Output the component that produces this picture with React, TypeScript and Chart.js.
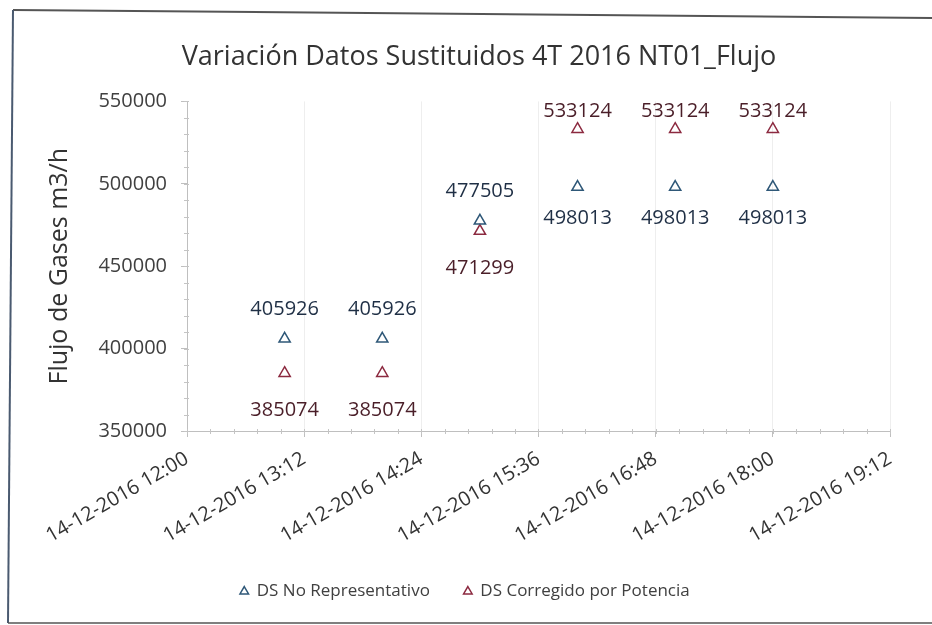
import React, { useEffect, useRef } from "react";
import { Chart, registerables } from "chart.js";

Chart.register(...registerables);

const TITLE = "Variación Datos Sustituidos 4T 2016 NT01_Flujo";
const Y_TITLE = "Flujo de Gases m3/h";
const DATE_PREFIX = "14-12-2016";
const times = ["13:00", "14:00", "15:00", "16:00", "17:00", "18:00"];
const noRepresentativo = [405926, 405926, 477505, 498013, 498013, 498013];
const corregidoPotencia = [385074, 385074, 471299, 533124, 533124, 533124];
const seriesNames = ["DS No Representativo", "DS Corregido por Potencia"];
const xMinTime = "12:00";
const xMaxTime = "19:12";
const xStepMinutes = 72;
const yMin = 350000;
const yMax = 550000;
const yStep = 50000;
const labelPosBlue = ["above", "above", "above", "below", "below", "below"];
const labelPosRed = ["below", "below", "below", "above", "above", "above"];

const FONT = "'Open Sans', 'DejaVu Sans', sans-serif";
const markerColors = ["#2f5878", "#8c2a40"];
const labelColors = ["#1f2f45", "#4a1e28"];
// label offsets (px) per series: [above, below]
const labelOffsets = [
  [-30, 31],
  [-18, 37],
];
const TITLE_SIZE = 27;
const TITLE_PAD_TOP = 41;
const TITLE_CENTER_X = 479;

const toMin = (t: string) => {
  const [h, m] = t.split(":").map(Number);
  return h * 60 + m;
};
const fmtMin = (v: number) => {
  const h = Math.floor(v / 60);
  const m = Math.round(v - h * 60);
  return `${DATE_PREFIX} ${h}:${String(m).padStart(2, "0")}`;
};

const valueLabels = {
  id: "valueLabels",
  afterDatasetsDraw(chart: any) {
    const ctx = chart.ctx;
    chart.data.datasets.forEach((ds: any, di: number) => {
      const meta = chart.getDatasetMeta(di);
      const pos = di === 0 ? labelPosBlue : labelPosRed;
      ctx.save();
      ctx.font = `20px ${FONT}`;
      ctx.fillStyle = labelColors[di];
      ctx.textAlign = "center";
      ctx.textBaseline = "middle";
      meta.data.forEach((pt: any, i: number) => {
        const v = ds.data[i].y;
        const dy = pos[i] === "above" ? labelOffsets[di][0] : labelOffsets[di][1];
        ctx.fillText(String(v), pt.x, pt.y + dy);
      });
      ctx.restore();
    });
  },
};

const minorTicks = {
  id: "minorTicks",
  afterDraw(chart: any) {
    const { ctx } = chart;
    const x = chart.scales.x;
    const y = chart.scales.y;
    ctx.save();
    ctx.strokeStyle = "#c4c4c4";
    ctx.lineWidth = 1;
    ctx.beginPath();
    const xs = xStepMinutes / 5;
    for (let v = x.min; v <= x.max + 1e-6; v += xs) {
      const px = Math.round(x.getPixelForValue(v)) + 0.5;
      ctx.moveTo(px, y.bottom - 2);
      ctx.lineTo(px, y.bottom + 3);
    }
    const ys = yStep / 5;
    for (let v = y.min; v <= y.max + 1e-6; v += ys) {
      const py = Math.round(y.getPixelForValue(v)) + 0.5;
      ctx.moveTo(x.left - 3, py);
      ctx.lineTo(x.left + 2, py);
    }
    ctx.stroke();
    ctx.restore();
  },
};

const titleText = {
  id: "titleText",
  afterDraw(chart: any) {
    const { ctx } = chart;
    const tb = chart.titleBlock;
    const top = tb ? tb.top : 0;
    ctx.save();
    ctx.font = `${TITLE_SIZE}px ${FONT}`;
    ctx.fillStyle = "#333333";
    ctx.textAlign = "center";
    ctx.textBaseline = "middle";
    ctx.fillText(TITLE, TITLE_CENTER_X, top + TITLE_PAD_TOP + (TITLE_SIZE * 1.2) / 2);
    ctx.restore();
  },
};

export default function App() {
  const ref = useRef<HTMLCanvasElement | null>(null);

  useEffect(() => {
    if (!ref.current) return;
    const mk = (vals: number[]) => times.map((t, i) => ({ x: toMin(t), y: vals[i] }));
    const chart = new Chart(ref.current, {
      type: "scatter",
      data: {
        datasets: [
          {
            label: seriesNames[0],
            data: mk(noRepresentativo),
            pointStyle: "triangle",
            pointRadius: 6.5,
            pointHoverRadius: 6.5,
            borderWidth: 1.5,
            borderColor: markerColors[0],
            backgroundColor: "rgba(255,255,255,0)",
          },
          {
            label: seriesNames[1],
            data: mk(corregidoPotencia),
            pointStyle: "triangle",
            pointRadius: 6.5,
            pointHoverRadius: 6.5,
            borderWidth: 1.5,
            borderColor: markerColors[1],
            backgroundColor: "rgba(255,255,255,0)",
          },
        ],
      },
      options: {
        responsive: false,
        animation: false,
        layout: { padding: { left: 40, right: 42, top: 0, bottom: 15 } },
        plugins: {
          tooltip: { enabled: false },
          title: {
            display: true,
            text: TITLE,
            color: "rgba(0,0,0,0)",
            font: { family: FONT, size: TITLE_SIZE, weight: "normal" },
            padding: { top: TITLE_PAD_TOP, bottom: 28 },
          },
          legend: {
            position: "bottom",
            labels: {
              usePointStyle: true,
              boxWidth: 8,
              boxHeight: 7,
              padding: 34,
              color: "#404040",
              font: { family: FONT, size: 17 },
            },
          },
        },
        scales: {
          x: {
            type: "linear",
            min: toMin(xMinTime),
            max: toMin(xMaxTime),
            afterFit: (s: any) => {
              s.height = 118;
            },
            grid: {
              color: "#eeeeee",
              drawOnChartArea: true,
              tickLength: 6,
              tickColor: "#bfbfbf",
            },
            border: { color: "#bfbfbf" },
            ticks: {
              stepSize: xStepMinutes,
              autoSkip: false,
              minRotation: 30,
              maxRotation: 30,
              color: "#333333",
              font: { family: FONT, size: 20 },
              padding: 10,
              callback: (v: any) => fmtMin(Number(v)),
            },
          },
          y: {
            min: yMin,
            max: yMax,
            afterFit: (s: any) => {
              s.width = 147;
            },
            grid: {
              drawOnChartArea: false,
              tickLength: 6,
              tickColor: "#bfbfbf",
            },
            border: { color: "#bfbfbf" },
            ticks: {
              stepSize: yStep,
              color: "#404040",
              font: { family: FONT, size: 20 },
              padding: 14,
              callback: (v: any) => String(v),
            },
            title: {
              display: true,
              text: Y_TITLE,
              color: "#333333",
              font: { family: FONT, size: 25 },
              padding: { top: 5, bottom: 0 },
            },
          },
        },
      },
      plugins: [valueLabels, minorTicks, titleText],
    });
    return () => chart.destroy();
  }, []);

  return (
    <div
      style={{
        position: "fixed",
        left: 0,
        top: 0,
        width: 932,
        height: 625,
        background: "#ffffff",
      }}
    >
      <canvas ref={ref} width={932} height={625} style={{ display: "block" }} />
      <svg
        width={932}
        height={625}
        style={{ position: "absolute", left: 0, top: 0, pointerEvents: "none" }}
      >
        <line x1={13} y1={10} x2={932} y2={18} stroke="#555" strokeWidth={2} />
        <line x1={13} y1={10} x2={8} y2={623} stroke="#4a5a70" strokeWidth={2} />
        <line x1={8} y1={623} x2={932} y2={623} stroke="#555" strokeWidth={1.5} />
      </svg>
    </div>
  );
}
